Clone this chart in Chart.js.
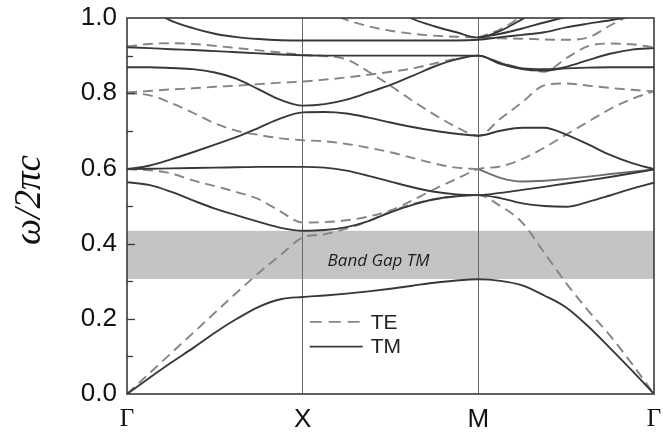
<!DOCTYPE html>
<html><head><meta charset="utf-8">
<script src="https://cdn.jsdelivr.net/npm/chart.js@4.4.1/dist/chart.umd.min.js"></script>
<style>html,body{margin:0;padding:0;background:#fff}#wrap{width:663px;height:432px}</style>
</head><body><div id="wrap"><canvas id="c" width="663" height="432"></canvas></div>
<script>
// wave-vector positions along Γ–X–M–Γ (0..3)
const K = [0,0.125,0.25,0.375,0.5,0.625,0.75,0.875,1,1.125,1.25,1.375,1.5,1.625,1.75,1.875,2,2.125,2.25,2.375,2.5,2.625,2.75,2.875,3];
const N = null;
const xTickLabels = ['Γ','X','M','Γ'];
const yTickLabels = ['0.0','0.2','0.4','0.6','0.8','1.0'];
const yTitle = 'ω/2πc';
const gapBand = [0.306, 0.434];
const gapLabel = 'Band Gap TM';
const legendLabels = ['TE','TM'];

// TM bands (solid)
const tm1 = [0,0.042,0.083,0.122,0.163,0.2,0.232,0.252,0.258,0.262,0.267,0.273,0.28,0.288,0.296,0.302,0.305,0.301,0.289,0.262,0.23,0.18,0.122,0.062,0];
const tm2 = [0.563,0.556,0.538,0.515,0.493,0.475,0.458,0.442,0.434,0.436,0.444,0.46,0.483,0.503,0.518,0.526,0.529,0.521,0.507,0.5,0.498,0.511,0.528,0.546,0.562];
const tm3 = [0.598,0.599,0.6,0.601,0.602,0.603,0.604,0.604,0.604,0.602,0.594,0.58,0.565,0.55,0.538,0.531,0.529,0.535,0.543,0.551,0.56,0.568,0.577,0.587,0.597];
const tm4 = [0.598,0.607,0.624,0.643,0.663,0.684,0.708,0.733,0.749,0.75,0.746,0.735,0.722,0.71,0.7,0.692,0.687,0.7,0.708,0.708,0.69,0.664,0.636,0.614,0.598];
const tm5 = [0.869,0.869,0.867,0.864,0.855,0.838,0.81,0.782,0.767,0.771,0.783,0.802,0.822,0.846,0.871,0.89,0.9,0.88,0.866,0.864,0.866,0.868,0.869,0.869,0.869];
const tm6 = [0.922,0.92,0.917,0.915,0.912,0.909,0.906,0.903,0.901,0.9,0.9,0.9,0.9,0.9,0.9,0.9,0.9,0.878,0.864,0.86,0.87,0.888,0.905,0.916,0.92];
const tm7 = [1.05,1.025,0.993,0.973,0.958,0.949,0.944,0.941,0.94,0.94,0.94,0.94,0.94,0.94,0.94,0.94,0.942,0.949,0.955,0.962,0.975,0.985,0.994,1.005,1.015];
const tm8 = [N,N,N,N,N,N,N,N,N,N,N,N,1.03,0.998,0.978,0.962,0.948,0.966,0.997,1.03,N,N,N,N,N];
const tm9 = [N,N,N,N,N,N,N,N,N,N,N,N,N,N,N,N,0.948,0.958,0.972,0.988,1.003,1.02,N,N,N];
const tm10 = [N,N,N,N,N,N,N,N,N,N,N,N,N,N,N,N,0.598,0.575,0.565,0.567,0.572,0.578,0.585,0.591,0.597];

// TE bands (dashed)
const te1 = [0,0.054,0.108,0.162,0.216,0.27,0.322,0.37,0.416,0.425,0.44,0.46,0.485,0.505,0.518,0.526,0.529,0.5,0.456,0.376,0.295,0.222,0.155,0.08,0];
const te2 = [0.598,0.595,0.587,0.568,0.553,0.537,0.518,0.485,0.456,0.457,0.462,0.472,0.488,0.515,0.545,0.572,0.598,0.605,0.625,0.655,0.69,0.724,0.758,0.785,0.805];
const te3 = [0.8,0.795,0.774,0.748,0.72,0.7,0.689,0.68,0.675,0.672,0.665,0.655,0.643,0.628,0.613,0.602,0.598,N,N,N,N,N,N,N,N];
const te4 = [0.802,0.806,0.81,0.813,0.817,0.82,0.824,0.828,0.831,0.836,0.842,0.849,0.857,0.866,0.879,0.892,0.9,0.882,0.866,0.857,0.893,0.925,0.932,0.93,0.922];
const te5 = [0.924,0.931,0.933,0.931,0.926,0.92,0.914,0.908,0.902,0.899,0.89,0.857,0.82,0.78,0.743,0.71,0.687,0.732,0.776,0.821,0.826,0.82,0.814,0.809,0.805];
const te6 = [N,N,N,N,N,N,N,N,N,1.02,0.995,0.978,0.966,0.958,0.953,0.95,0.948,0.946,0.945,0.943,0.942,0.948,0.98,1.01,N];
const te7 = [N,N,N,N,N,N,N,N,N,N,N,N,N,N,N,N,0.948,0.97,1.005,1.04,N,N,N,N,N];

const SOLID = '#383838';
const DASH = '#858585';
const pts = arr => K.map((x,i)=>({x, y: arr[i]})).filter(p => p.y !== null);
const tmSets = [tm1,tm2,tm3,tm4,tm5,tm6,tm7,tm8,tm9,tm10].map((a,i)=>({
  label:'TM'+(i+1), data: pts(a), borderColor: i===9 ? '#6e6e6e' : SOLID, borderWidth: 1.9,
  pointRadius:0, cubicInterpolationMode:'monotone', fill:false }));
const teSets = [te1,te2,te3,te4,te5,te6,te7].map((a,i)=>({
  label:'TE'+(i+1), data: pts(a), borderColor: DASH, borderWidth: 1.9, borderDash:[10,6],
  pointRadius:0, cubicInterpolationMode:'monotone', fill:false }));

const deco = {
  id:'deco',
  beforeDraw(chart){
    const {ctx, chartArea:a, scales:{x, y}} = chart;
    ctx.save();
    const t = y.getPixelForValue(gapBand[1]), b = y.getPixelForValue(gapBand[0]);
    ctx.fillStyle = '#c4c4c4';
    ctx.fillRect(a.left, t, a.right - a.left, b - t);
    ctx.fillStyle = '#1e1e1e';
    ctx.font = 'italic 17px "Open Sans"';
    ctx.textAlign = 'left'; ctx.textBaseline = 'alphabetic';
    ctx.fillText(gapLabel, x.getPixelForValue(1.142), y.getPixelForValue(0.34));
    // y-axis title, rotated
    ctx.save();
    ctx.translate(40, (a.top + a.bottom) / 2 - 6);
    ctx.rotate(-Math.PI / 2);
    ctx.fillStyle = '#111';
    ctx.font = 'italic 37px "Liberation Serif"';
    ctx.textAlign = 'center'; ctx.textBaseline = 'alphabetic';
    ctx.fillText(yTitle, 0, 0);
    ctx.restore();
    ctx.restore();
  },
  afterDatasetsDraw(chart){
    const {ctx, chartArea:a, scales:{x, y}} = chart;
    ctx.save();
    // inward y ticks
    ctx.strokeStyle = '#3a3a3a'; ctx.lineWidth = 1.3;
    y.ticks.forEach(tk => {
      if (tk.value <= 0.001 || tk.value >= 0.999) return;
      const py = Math.round(y.getPixelForValue(tk.value)) + 0.5;
      const major = Math.round(tk.value*10) % 2 === 0;
      ctx.beginPath(); ctx.moveTo(a.left, py); ctx.lineTo(a.left + (major ? 8 : 6), py); ctx.stroke();
    });
    // frame
    ctx.strokeStyle = '#3a3a3a'; ctx.lineWidth = 1.6;
    ctx.strokeRect(a.left, a.top, a.right - a.left, a.bottom - a.top);
    // legend
    const lx = x.getPixelForValue(1.04), ly1 = y.getPixelForValue(0.192), ly2 = y.getPixelForValue(0.126);
    ctx.lineWidth = 1.8;
    ctx.strokeStyle = DASH; ctx.setLineDash([12,7]);
    ctx.beginPath(); ctx.moveTo(lx, ly1); ctx.lineTo(lx + 57, ly1); ctx.stroke();
    ctx.setLineDash([]); ctx.strokeStyle = SOLID;
    ctx.beginPath(); ctx.moveTo(lx, ly2); ctx.lineTo(lx + 53, ly2); ctx.stroke();
    ctx.fillStyle = '#222'; ctx.font = '21px "Liberation Sans"';
    ctx.textAlign = 'left'; ctx.textBaseline = 'middle';
    ctx.fillText(legendLabels[0], lx + 61, ly1 + 1);
    ctx.fillText(legendLabels[1], lx + 61, ly2 + 1);
    ctx.restore();
  }
};

new Chart(document.getElementById('c'), {
  type:'line',
  data:{ datasets:[...tmSets, ...teSets] },
  options:{
    responsive:false, animation:false, devicePixelRatio:1,
    layout:{ padding:{ left:0, right:9, top:18, bottom:0 } },
    plugins:{ legend:{display:false}, tooltip:{enabled:false} },
    scales:{
      x:{ type:'linear', min:0, max:3,
        border:{display:false},
        grid:{ drawTicks:false, lineWidth:1,
          color: c => (c.tick && (c.tick.value===1 || c.tick.value===2)) ? '#6a6a6a' : 'rgba(0,0,0,0)' },
        ticks:{ stepSize:1, autoSkip:false, maxRotation:0, padding:10, color:'#111',
          callback: v => xTickLabels[v],
          font: c => (c.tick && (c.tick.value===0 || c.tick.value===3)) ? {family:'"Liberation Serif"', size:25} : {family:'"Liberation Sans"', size:26} },
        afterFit: s => { s.height = 38; s.paddingLeft = 0; s.paddingRight = 0; } },
      y:{ min:0, max:1,
        border:{display:false},
        grid:{ drawOnChartArea:false, drawTicks:false },
        ticks:{ stepSize:0.1, autoSkip:false, padding:10, color:'#111',
          font:{family:'"Liberation Sans"', size:26},
          callback: v => { const i = Math.round(v*10); return i % 2 === 0 ? yTickLabels[i/2] : ''; } },
        afterFit: s => { s.width = 127; s.paddingTop = 0; s.paddingBottom = 0; } }
    }
  },
  plugins:[deco]
});
</script></body></html>
